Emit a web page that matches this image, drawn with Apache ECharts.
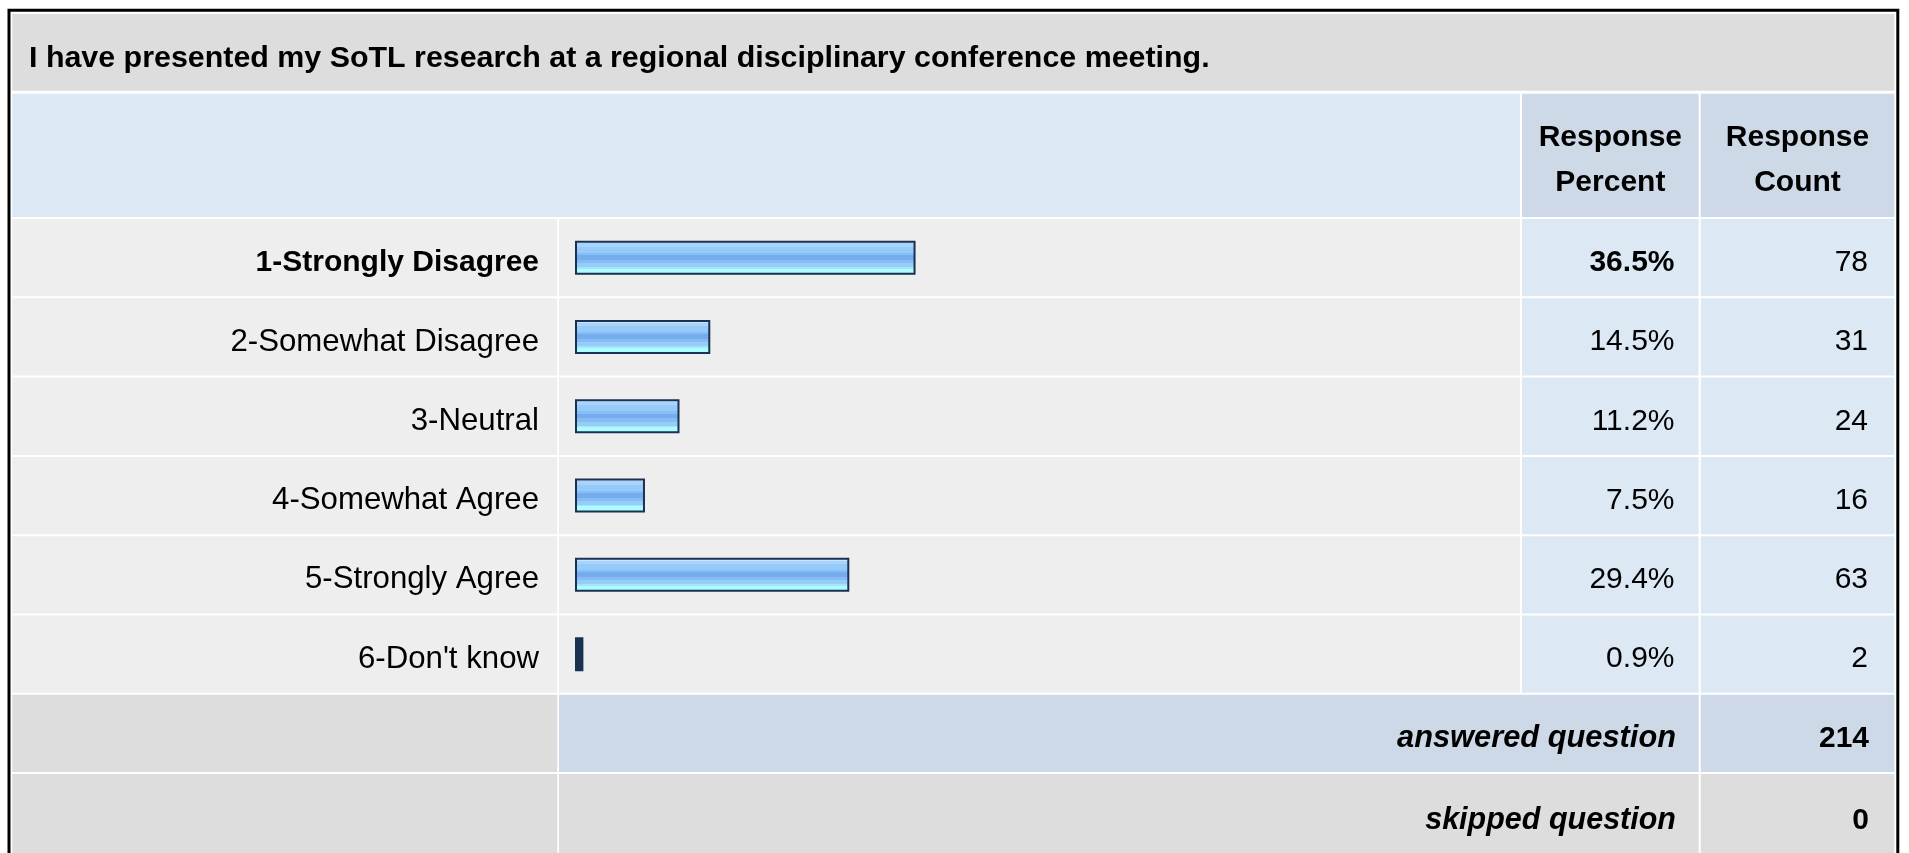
<!DOCTYPE html>
<html>
<head>
<meta charset="utf-8">
<title>Survey response table</title>
<script src="https://cdn.jsdelivr.net/npm/echarts@6/dist/echarts.min.js"></script>
<style>
  html, body { margin: 0; padding: 0; background: #ffffff; }
  #chart { width: 1909px; height: 853px; }
</style>
</head>
<body>
<div id="chart"></div>
<script>
// ---- data ----
const questionTitle = 'I have presented my SoTL research at a regional disciplinary conference meeting.';
const categories = ['1-Strongly Disagree', '2-Somewhat Disagree', '3-Neutral', '4-Somewhat Agree', '5-Strongly Agree', "6-Don't know"];
const percents = [36.5, 14.5, 11.2, 7.5, 29.4, 0.9];
const counts = [78, 31, 24, 16, 63, 2];
const headerPercent = ['Response', 'Percent'];
const headerCount = ['Response', 'Count'];
const summaryLabels = ['answered question', 'skipped question'];
const summaryValues = [214, 0];

// ---- layout ----
const FONT = '"Liberation Sans", Arial, Helvetica, sans-serif';
const C = { labL: 12.3, labR: 557.3, barL: 559, barR: 1520, pctL: 1522, pctR: 1698.7, cntL: 1700.7, cntR: 1894.3 };
const titleTop = 14, titleBot = 90.7, headTop = 93.7, headBot = 216.9;
const rowTop0 = 219, pitch = 79.3, rowH = 77.3;
const rowTop = i => rowTop0 + pitch * i;
const TY = 4.5; // baseline nudge for the free-standing texts

const GRAY = '#dddddd', LIGHT = '#eeeeee', BLUE = '#dde8f5', BLUE2 = '#cdd9e7';
const NAVY = '#1b3152';

const graphics = [];
function cell(x0, x1, y0, y1, fill) {
  graphics.push({ type: 'rect', z: 0, silent: true,
    shape: { x: x0, y: y0, width: x1 - x0, height: y1 - y0 }, style: { fill: fill } });
}
function label(text, x, y, align, font) {
  graphics.push({ type: 'text', z: 100, silent: true,
    style: { text: text, x: x, y: y + TY, font: font, fill: '#000000', textAlign: align, textVerticalAlign: 'middle' } });
}

// title row
cell(C.labL, C.cntR, titleTop, titleBot, GRAY);
label(questionTitle, 29, 54, 'left', 'bold 30.4px ' + FONT);
// header row
cell(C.labL, C.barR, headTop, headBot, BLUE);
cell(C.pctL, C.pctR, headTop, headBot, BLUE2);
cell(C.cntL, C.cntR, headTop, headBot, BLUE2);
label(headerPercent[0], (C.pctL + C.pctR) / 2, 133, 'center', 'bold 30px ' + FONT);
label(headerPercent[1], (C.pctL + C.pctR) / 2, 178, 'center', 'bold 30px ' + FONT);
label(headerCount[0], (C.cntL + C.cntR) / 2, 133, 'center', 'bold 30px ' + FONT);
label(headerCount[1], (C.cntL + C.cntR) / 2, 178, 'center', 'bold 30px ' + FONT);
// answer rows
categories.forEach((c, i) => {
  const y0 = rowTop(i), y1 = y0 + rowH;
  cell(C.labL, C.labR, y0, y1, LIGHT);
  cell(C.barL, C.barR, y0, y1, LIGHT);
  cell(C.pctL, C.pctR, y0, y1, BLUE);
  cell(C.cntL, C.cntR, y0, y1, BLUE);
});
// summary rows
const ansTop = rowTop(6), skipTop = rowTop(7);
cell(C.labL, C.labR, ansTop, ansTop + rowH, GRAY);
cell(C.barL, C.pctR, ansTop, ansTop + rowH, BLUE2);
cell(C.cntL, C.cntR, ansTop, ansTop + rowH, BLUE2);
cell(C.labL, C.labR, skipTop, 853, GRAY);
cell(C.barL, C.pctR, skipTop, 853, GRAY);
cell(C.cntL, C.cntR, skipTop, 853, GRAY);
label(summaryLabels[0], 1676, 734, 'right', 'italic bold 30.8px ' + FONT);
label(String(summaryValues[0]), 1869, 734, 'right', 'bold 30px ' + FONT);
label(summaryLabels[1], 1676, 816, 'right', 'italic bold 30.5px ' + FONT);
label(String(summaryValues[1]), 1869, 816, 'right', 'bold 30px ' + FONT);
// outer frame
graphics.push({ type: 'rect', z: 200, silent: true,
  shape: { x: 9, y: 10.3, width: 1888.8, height: 900 },
  style: { fill: 'none', stroke: '#000000', lineWidth: 3 } });

// striped fill of the response bars
const barFill = new echarts.graphic.LinearGradient(0, 0, 0, 1, [
  { offset: 0.00, color: '#c8e4ff' }, { offset: 0.08, color: '#c8e4ff' },
  { offset: 0.08, color: '#a8d4fc' }, { offset: 0.18, color: '#a8d4fc' },
  { offset: 0.18, color: '#96cafa' }, { offset: 0.36, color: '#96cafa' },
  { offset: 0.36, color: '#88bef6' }, { offset: 0.42, color: '#88bef6' },
  { offset: 0.42, color: '#74acee' }, { offset: 0.56, color: '#74acee' },
  { offset: 0.56, color: '#86bcf4' }, { offset: 0.66, color: '#86bcf4' },
  { offset: 0.66, color: '#98ccf8' }, { offset: 0.78, color: '#98ccf8' },
  { offset: 0.78, color: '#a6e4fc' }, { offset: 0.82, color: '#a6e4fc' },
  { offset: 0.82, color: '#abfdff' }, { offset: 1.00, color: '#abfdff' }
]);

// first row is emphasised in bold, the rest use the plain style
const richLabel = (v, i) => (i === 0 ? '{b|' + v + '}' : '{n|' + v + '}');
const richStyles = size => ({
  b: { fontWeight: 'bold', fontSize: 30, fontFamily: FONT, color: '#000000' },
  n: { fontWeight: 'normal', fontSize: size, fontFamily: FONT, color: '#000000' }
});
const axisBase = {
  type: 'category', inverse: true,
  axisLine: { show: false }, axisTick: { show: false }, splitLine: { show: false },
  z: 10
};
const labelPad = [10, 0, 0, 0];

const chart = echarts.init(document.getElementById('chart'), null, { renderer: 'canvas' });
chart.setOption({
  animation: false,
  backgroundColor: '#ffffff',
  graphic: { elements: graphics },
  grid: { left: 575, top: rowTop0 - 1, width: 933, height: pitch * categories.length, containLabel: false },
  xAxis: { type: 'value', min: 0, max: 100, show: false },
  yAxis: [
    Object.assign({}, axisBase, {
      data: categories, position: 'left',
      axisLabel: { interval: 0, margin: 36, padding: labelPad, formatter: richLabel, rich: richStyles(31.2) }
    }),
    Object.assign({}, axisBase, {
      data: percents.map(p => p.toFixed(1) + '%'), position: 'right',
      axisLabel: { interval: 0, margin: 1674.5 - 1508, padding: labelPad, align: 'right', formatter: richLabel, rich: richStyles(30) }
    }),
    Object.assign({}, axisBase, {
      data: counts.map(String), position: 'right', offset: 0,
      axisLabel: { interval: 0, margin: 1868 - 1508, padding: labelPad, align: 'right',
        formatter: v => '{n|' + v + '}', rich: richStyles(30) }
    })
  ],
  series: [{
    type: 'bar', yAxisIndex: 0, barWidth: 34, z: 5,
    data: percents.map(v => ({ value: v, itemStyle: v < 2 ? { color: NAVY } : {} })),
    itemStyle: { color: barFill, borderColor: NAVY, borderWidth: 2 },
    emphasis: { disabled: true }
  }]
});
</script>
</body>
</html>
